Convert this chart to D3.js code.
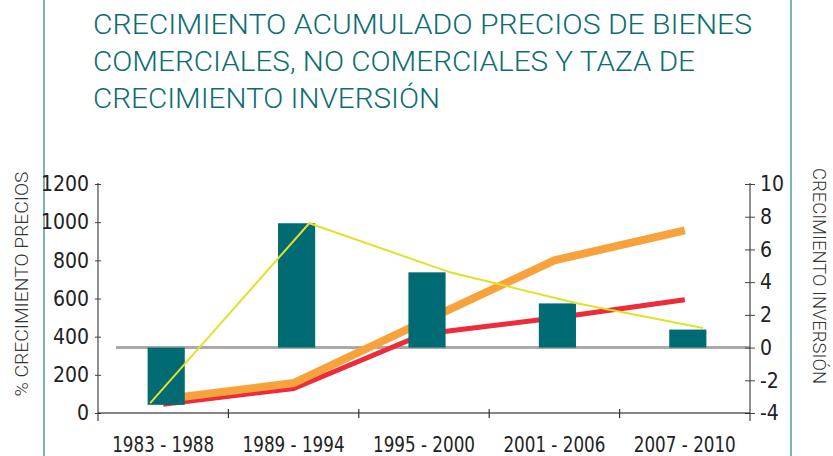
<!DOCTYPE html>
<html>
<head>
<meta charset="utf-8">
<script src="https://cdn.jsdelivr.net/npm/d3@7"></script>
<style>
  body { margin: 0; background: #fff; }
  svg { display: block; }
</style>
</head>
<body>
<div id="chart"></div>
<script>
// Data
const categories = ['1983 - 1988', '1989 - 1994', '1995 - 2000', '2001 - 2006', '2007 - 2010'];
// teal bars, right axis
const inversionBars = [-3.5, 7.6, 4.6, 2.7, 1.1];
// thin yellow line, right axis (its points sit off the band centres, in category units)
const inversionLine = [-3.4, 7.6, 4.6, 2.7, 1.2];
const inversionLinePos = [-0.1, 1.12, 2.2, 3.18, 4.14];
// thick orange and red lines, left axis
const preciosNoComerciales = [72, 157, 480, 800, 957];
const preciosComerciales = [46, 128, 414, 498, 593];
const leftTicks = [0, 200, 400, 600, 800, 1000, 1200];
const rightTicks = [-4, -2, 0, 2, 4, 6, 8, 10];
const titleLines = [
    'CRECIMIENTO ACUMULADO PRECIOS DE BIENES',
    'COMERCIALES, NO COMERCIALES Y TAZA DE',
    'CRECIMIENTO INVERSIÓN'
];

const width = 833, height = 456;
const plot = { left: 98, right: 750, top: 184, bottom: 413 };
const numFont = "'Liberation Sans Narrow', 'DejaVu Sans Condensed', Roboto, sans-serif";
const titleFont = "Roboto, 'DejaVu Sans', sans-serif";

const svg = d3.select('#chart')
    .append('svg')
    .attr('width', width)
    .attr('height', height);

// Side frame lines
[44, 791].forEach(x => {
    svg.append('line')
        .attr('x1', x).attr('x2', x)
        .attr('y1', 0).attr('y2', height)
        .style('stroke', '#7db4ba')
        .style('stroke-width', 2);
});

// Title
const titleWidths = [659, 602, 347];
svg.append('g')
    .selectAll('text')
    .data(titleLines)
    .enter()
    .append('text')
    .attr('x', 93)
    .attr('y', (d, i) => 33.5 + i * 37.3)
    .attr('textLength', (d, i) => titleWidths[i])
    .attr('lengthAdjust', 'spacingAndGlyphs')
    .style('font-family', titleFont)
    .style('font-weight', 300)
    .style('font-size', '28px')
    .style('fill', '#0c6d72')
    .text(d => d);

// Scales
const x = d3.scaleBand()
    .domain(categories)
    .range([plot.left, plot.right])
    .padding(0);
const center = d => x(d) + x.bandwidth() / 2;
const xIdx = d3.scaleLinear()
    .domain([0, categories.length - 1])
    .range([center(categories[0]), center(categories[categories.length - 1])]);
const yLeft = d3.scaleLinear().domain([0, 1200]).range([plot.bottom, plot.top]);
const yRight = d3.scaleLinear().domain([-4, 10]).range([plot.bottom, plot.top]);

// Zero line of the right axis
svg.append('line')
    .attr('x1', 116).attr('x2', plot.right)
    .attr('y1', yRight(0)).attr('y2', yRight(0))
    .style('stroke', '#aaaaaa')
    .style('stroke-width', 3);

// Price lines (drawn under the bars)
const lineLeft = d3.line()
    .x((d, i) => center(categories[i]))
    .y(d => yLeft(d));

svg.append('path')
    .datum(preciosComerciales)
    .attr('d', lineLeft)
    .style('fill', 'none')
    .style('stroke', '#ee2b3b')
    .style('stroke-width', 5);

svg.append('path')
    .datum(preciosNoComerciales)
    .attr('d', lineLeft)
    .style('fill', 'none')
    .style('stroke', '#f8a23b')
    .style('stroke-width', 8);

// Bars
const barW = x.bandwidth() * 0.285;
svg.append('g')
    .selectAll('rect')
    .data(inversionBars)
    .enter()
    .append('rect')
    .attr('x', (d, i) => center(categories[i]) - barW / 2 + 3)
    .attr('width', barW)
    .attr('y', d => yRight(Math.max(0, d)))
    .attr('height', d => Math.abs(yRight(d) - yRight(0)))
    .style('fill', '#006b73');

// Investment line
svg.append('path')
    .datum(inversionLine)
    .attr('d', d3.line()
        .x((d, i) => xIdx(inversionLinePos[i]))
        .y(d => yRight(d)))
    .style('fill', 'none')
    .style('stroke', '#e1e12a')
    .style('stroke-width', 2);

// Left axis
const plain = d => String(d);
const gl = svg.append('g')
    .attr('transform', `translate(${plot.left},0)`)
    .call(d3.axisLeft(yLeft).tickValues(leftTicks).tickFormat(plain).tickSize(3).tickPadding(6));
gl.select('.domain').remove();
gl.selectAll('.tick line').attr('x1', -3).attr('x2', 3).style('stroke', '#444');
gl.append('line')
    .attr('y1', plot.top - 1).attr('y2', plot.bottom + 8)
    .style('stroke', '#444').style('stroke-width', 1.2);
gl.selectAll('text')
    .style('font-family', numFont)
    .style('font-size', '21px')
    .style('fill', '#222');

// Right axis
const gr = svg.append('g')
    .attr('transform', `translate(${plot.right},0)`)
    .call(d3.axisRight(yRight).tickValues(rightTicks).tickFormat(plain).tickSize(5).tickPadding(5));
gr.select('.domain').remove();
gr.selectAll('.tick line').attr('x1', -5).attr('x2', 5).style('stroke', '#444');
gr.append('line')
    .attr('y1', plot.top - 1).attr('y2', plot.bottom + 8)
    .style('stroke', '#444').style('stroke-width', 1.2);
gr.selectAll('text')
    .style('font-family', numFont)
    .style('font-size', '21px')
    .style('fill', '#222');

// Bottom axis
const gx = svg.append('g');
gx.append('line')
    .attr('x1', plot.left).attr('x2', plot.right)
    .attr('y1', plot.bottom).attr('y2', plot.bottom)
    .style('stroke', '#111').style('stroke-width', 1.2);
gx.selectAll('.bound')
    .data(categories.slice(1))
    .enter()
    .append('line')
    .attr('x1', d => x(d)).attr('x2', d => x(d))
    .attr('y1', plot.bottom - 4).attr('y2', plot.bottom + 5)
    .style('stroke', '#333').style('stroke-width', 1.2);
gx.selectAll('.lbl')
    .data(categories)
    .enter()
    .append('text')
    .attr('x', d => center(d))
    .attr('y', 451.5)
    .attr('text-anchor', 'middle')
    .attr('textLength', 102)
    .attr('lengthAdjust', 'spacingAndGlyphs')
    .style('font-family', numFont)
    .style('font-size', '21px')
    .style('fill', '#222')
    .text(d => d);

// Axis titles
svg.append('text')
    .attr('transform', 'translate(28,284) rotate(-90)')
    .attr('text-anchor', 'middle')
    .attr('textLength', 225)
    .attr('lengthAdjust', 'spacingAndGlyphs')
    .style('font-family', titleFont)
    .style('font-weight', 300)
    .style('font-size', '18px')
    .style('fill', '#333')
    .text('% CRECIMIENTO PRECIOS');

svg.append('text')
    .attr('transform', 'translate(813,276) rotate(90)')
    .attr('text-anchor', 'middle')
    .attr('textLength', 216)
    .attr('lengthAdjust', 'spacingAndGlyphs')
    .style('font-family', titleFont)
    .style('font-weight', 300)
    .style('font-size', '19px')
    .style('fill', '#333')
    .text('CRECIMIENTO INVERSIÓN');
</script>
</body>
</html>
